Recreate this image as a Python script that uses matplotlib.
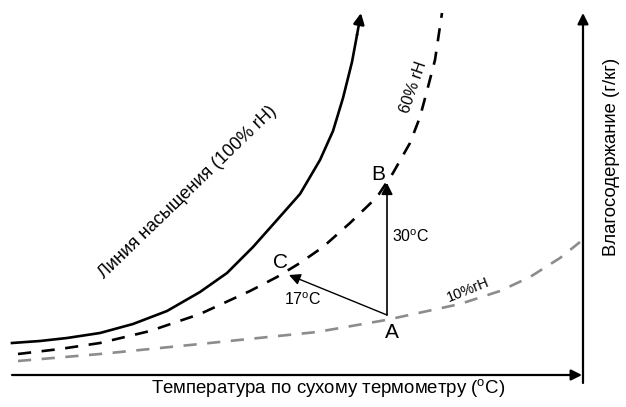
import matplotlib
matplotlib.use("Agg")
import matplotlib.pyplot as plt

plt.rcParams["font.family"] = ["Liberation Sans", "DejaVu Sans"]
plt.rcParams["mathtext.fontset"] = "custom"
plt.rcParams["mathtext.rm"] = "Liberation Sans"

# ---- DATA (schematic units) ---- #
sat_x = [12, 40, 67, 100, 133, 167, 200, 227, 253, 277, 300, 320, 333, 343, 352, 357, 361]
sat_y = [64, 66, 69, 74, 83, 96, 115, 134, 160, 187, 213, 247, 276, 309, 345, 372, 394]

rh60_x = [18, 60, 100, 150, 200, 250, 277, 300, 323, 350, 377, 393, 410, 420, 428, 435, 439, 442]
rh60_y = [53, 58, 64, 76, 93, 116, 130, 144, 160, 184, 210, 234, 264, 290, 320, 347, 374, 394]

rh10_x = [18, 100, 200, 317, 386, 460, 500, 530, 560, 580]
rh10_y = [46, 53, 63, 75, 87, 103, 116, 130, 149, 165]

points = {"A": (387, 92), "B": (387, 224), "C": (289, 132)}

x_axis = (12, 582, 32)   # x start, x end, y
y_axis = (583, 24, 394)  # x, y start, y end

# ---- PLOT ---- #
fig = plt.figure(figsize=(6.26, 4.07), dpi=100)
ax = fig.add_axes([0, 0, 1, 1])
ax.set_xlim(0, 626)
ax.set_ylim(0, 407)
ax.axis("off")

# axes arrows
ax.annotate("", xy=(x_axis[1], x_axis[2]), xytext=(x_axis[0], x_axis[2]),
            arrowprops=dict(arrowstyle="-|>", lw=1.6, color="black",
                            mutation_scale=16, shrinkA=0, shrinkB=0))
ax.annotate("", xy=(y_axis[0], y_axis[2]), xytext=(y_axis[0], y_axis[1]),
            arrowprops=dict(arrowstyle="-|>", lw=1.6, color="black",
                            mutation_scale=16, shrinkA=0, shrinkB=0))

# saturation line with arrow at the end
ax.plot(sat_x[:-1], sat_y[:-1], color="black", lw=1.9, solid_joinstyle="round")
ax.annotate("", xy=(sat_x[-1], sat_y[-1]), xytext=(sat_x[-2], sat_y[-2]),
            arrowprops=dict(arrowstyle="-|>", lw=1.9, color="black",
                            mutation_scale=16, shrinkA=0, shrinkB=0))

# 60% and 10% lines
ax.plot(rh60_x, rh60_y, color="black", lw=1.9, ls=(0, (5, 4)))
ax.plot(rh10_x, rh10_y, color="#8c8c8c", lw=1.9, ls=(0, (5, 4)))

# process arrows
ax.annotate("", xy=points["B"], xytext=points["A"],
            arrowprops=dict(arrowstyle="-|>", lw=1.2, color="black",
                            mutation_scale=17, shrinkA=0, shrinkB=0))
ax.annotate("", xy=points["C"], xytext=points["A"],
            arrowprops=dict(arrowstyle="-|>", lw=1.0, color="black",
                            mutation_scale=17, shrinkA=0, shrinkB=0))

# labels
ax.text(392, 74, "A", fontsize=15, ha="center", va="center")
ax.text(378, 233, "B", fontsize=15, ha="center", va="center")
ax.text(280, 145, "C", fontsize=15, ha="center", va="center")
ax.text(392, 170, "30$^{\\mathrm{o}}$C", fontsize=11.5, ha="left", va="center")
ax.text(303, 107, "17$^{\\mathrm{o}}$C", fontsize=11.5, ha="center", va="center")

ax.text(188, 215, "Линия насыщения (100% rH)", fontsize=13, rotation=44,
        ha="center", va="center", rotation_mode="anchor")
ax.text(413, 320, "60% rH", fontsize=11.5, rotation=71,
        ha="center", va="center", rotation_mode="anchor")
ax.text(468, 117, "10%rH", fontsize=10.5, rotation=22,
        ha="center", va="center", rotation_mode="anchor")

ax.text(328, 18, "Температура по сухому термометру ($^{\\mathrm{o}}$C)",
        fontsize=13.4, ha="center", va="center")
ax.text(612, 250, "Влагосодержание (г/кг)", fontsize=13.3, rotation=90,
        ha="center", va="center")

fig.savefig("out.png", dpi=100)
